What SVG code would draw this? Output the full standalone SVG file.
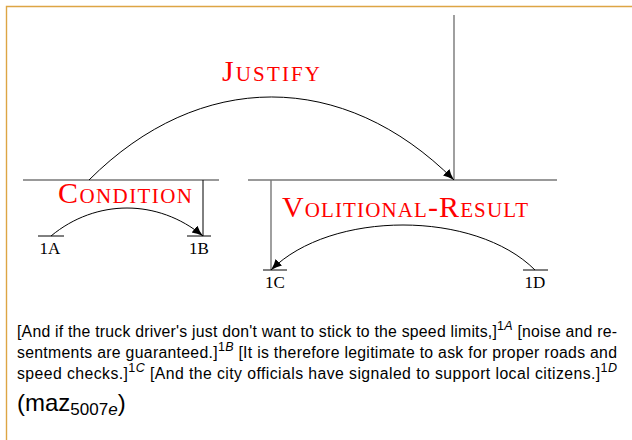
<svg xmlns="http://www.w3.org/2000/svg" width="632" height="440" viewBox="0 0 632 440">
<style>
.bar{stroke:#777;stroke-width:1.4;fill:none}
.leaf{stroke:#000;stroke-width:1;fill:none}
.arc{stroke:#000;stroke-width:1;fill:none;marker-end:url(#ah)}
.rel{font-family:"Liberation Serif","Times New Roman",serif;fill:#ff0000}
.big{font-size:30px}
.sc{font-size:21px}
.lbl{font-family:"Liberation Serif","Times New Roman",serif;font-size:17px;fill:#000;text-anchor:middle}
.para{font-family:"Liberation Sans",Arial,sans-serif;font-size:15.8px;fill:#000}
.sup{font-size:12.5px}
.it{font-style:italic}
</style>
<defs>
<marker id="ah" markerUnits="userSpaceOnUse" markerWidth="13" markerHeight="10" refX="11" refY="4.5" orient="auto">
<path d="M0,0 Q4.5,3 11,4.5 Q4.5,6 0,9 Z" fill="#000"/>
</marker>
</defs>
<rect width="632" height="440" fill="#fff"/>
<path d="M6.5,440 V6.5 H632" stroke="#DDA544" stroke-width="1.4" fill="none"/>

<g id="tree">
<line class="bar" x1="454" y1="15" x2="454" y2="180"/>
<line class="bar" x1="23" y1="180" x2="219" y2="180"/>
<line class="bar" x1="248" y1="180" x2="557" y2="180"/>
<line class="leaf" x1="203" y1="180" x2="203" y2="236"/>
<line class="bar" x1="271" y1="180" x2="271" y2="270"/>
</g>

<g id="n1A">
<line class="leaf" x1="38" y1="236" x2="64" y2="236"/>
<text class="lbl" x="50" y="254">1A</text>
</g>
<g id="n1B">
<line class="leaf" x1="187" y1="236" x2="211" y2="236"/>
<text class="lbl" x="199" y="254">1B</text>
</g>
<g id="n1C">
<line class="leaf" x1="263" y1="270" x2="287" y2="270"/>
<text class="lbl" x="275" y="288">1C</text>
</g>
<g id="n1D">
<line class="leaf" x1="523" y1="270" x2="548" y2="270"/>
<text class="lbl" x="535" y="288">1D</text>
</g>

<g id="connectors">
<path class="arc" d="M89,180 C199.7,69.3 343.3,69.3 454,180"/>
<path class="arc" d="M51,236 C96,198.7 158,198.7 203,236"/>
<path class="arc" d="M535,270 C475,210 331,210 271,270"/>
</g>

<g id="labels">
<text class="rel" x="222" y="81" textLength="98" lengthAdjust="spacing"><tspan class="big">J</tspan><tspan class="sc">USTIFY</tspan></text>
<text class="rel" x="58" y="203" textLength="134" lengthAdjust="spacing"><tspan class="big">C</tspan><tspan class="sc">ONDITION</tspan></text>
<text class="rel" x="282" y="217" textLength="246" lengthAdjust="spacing"><tspan class="big">V</tspan><tspan class="sc">OLITIONAL</tspan><tspan class="big">-R</tspan><tspan class="sc">ESULT</tspan></text>
</g>

<g id="text">
<text class="para" x="17" y="337" textLength="600" lengthAdjust="spacing">[And if the truck driver's just don't want to stick to the speed limits,]<tspan class="sup" dy="-7">1<tspan class="it">A</tspan></tspan><tspan dy="7"> [noise and re-</tspan></text>
<text class="para" x="17" y="358" textLength="600" lengthAdjust="spacing">sentments are guaranteed.]<tspan class="sup" dy="-7">1<tspan class="it">B</tspan></tspan><tspan dy="7"> [It is therefore legitimate to ask for proper roads and</tspan></text>
<text class="para" x="17" y="379" textLength="600" lengthAdjust="spacing">speed checks.]<tspan class="sup" dy="-7">1<tspan class="it">C</tspan></tspan><tspan dy="7"> [And the city officials have signaled to support local citizens.]</tspan><tspan class="sup" dy="-7">1<tspan class="it">D</tspan></tspan></text>
<text class="para" x="17" y="411"><tspan font-size="24px">(maz</tspan><tspan font-size="17px" dy="4">5007<tspan class="it">e</tspan></tspan><tspan font-size="24px" dy="-4">)</tspan></text>
</g>
</svg>
